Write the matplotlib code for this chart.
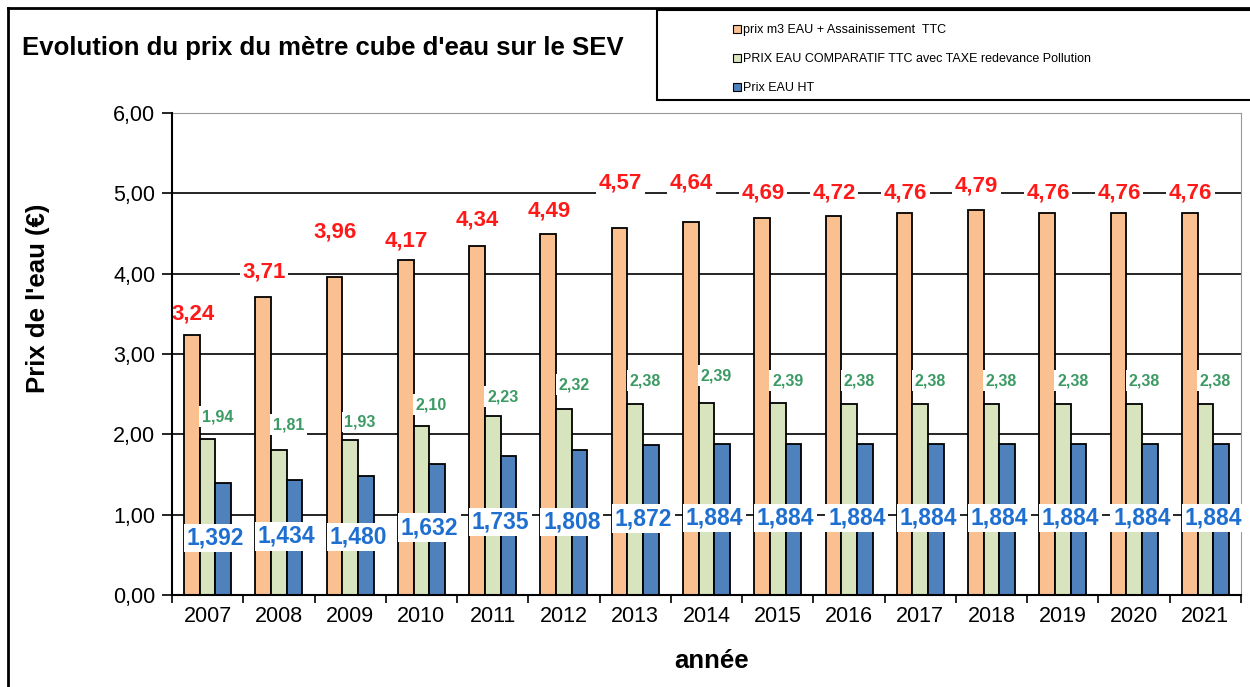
import numpy as np
import matplotlib
matplotlib.use("Agg")
import matplotlib.pyplot as plt
from matplotlib.patches import Patch, Rectangle
from matplotlib.lines import Line2D
from matplotlib.ticker import FuncFormatter, FixedLocator

plt.rcParams['font.family'] = ['Liberation Sans', 'DejaVu Sans']

# données
annees = ['2007', '2008', '2009', '2010', '2011', '2012', '2013', '2014',
          '2015', '2016', '2017', '2018', '2019', '2020', '2021']
prix_ttc = [3.24, 3.71, 3.96, 4.17, 4.34, 4.49, 4.57, 4.64, 4.69, 4.72, 4.76, 4.79, 4.76, 4.76, 4.76]
prix_comparatif = [1.94, 1.81, 1.93, 2.10, 2.23, 2.32, 2.38, 2.39, 2.39, 2.38, 2.38, 2.38, 2.38, 2.38, 2.38]
prix_ht = [1.392, 1.434, 1.480, 1.632, 1.735, 1.808, 1.872, 1.884, 1.884, 1.884, 1.884, 1.884, 1.884, 1.884, 1.884]

# hauteur des étiquettes
y_etiq_ttc = [3.50, 4.02, 4.52, 4.41, 4.67, 4.78, 5.13, 5.13, 5.01, 5.01, 5.01, 5.09, 5.01, 5.01, 5.01]
y_etiq_comp = [2.22, 2.12, 2.15, 2.37, 2.47, 2.62, 2.67, 2.73, 2.67, 2.67, 2.67, 2.67, 2.67, 2.67, 2.67]
y_etiq_ht = [0.71, 0.73, 0.72, 0.84, 0.91, 0.91, 0.95, 0.96, 0.96, 0.96, 0.96, 0.96, 0.96, 0.96, 0.96]

noms = ['prix m3 EAU + Assainissement  TTC',
        'PRIX EAU COMPARATIF TTC avec TAXE redevance Pollution',
        'Prix EAU HT']
couleurs = ['#FAC090', '#D7E4BD', '#4F81BD']

W, H = 1250, 687
fig = plt.figure(figsize=(W / 100, H / 100), dpi=100)
ax = fig.add_axes([172 / W, 1 - 595 / H, (1241 - 172) / W, (595 - 113) / H])

x = np.arange(len(annees))
larg = 0.22
for k, (vals, c) in enumerate(zip([prix_ttc, prix_comparatif, prix_ht], couleurs)):
    ax.bar(x + (k - 1) * larg, vals, width=larg, color=c, edgecolor='black',
           linewidth=1.3, zorder=3)

def fmt(v, n):
    return f"{v:.{n}f}".replace('.', ',')

boite = dict(facecolor='white', edgecolor='none', pad=2)
for i in range(len(annees)):
    ax.text(x[i] - larg + 0.01, y_etiq_ttc[i], fmt(prix_ttc[i], 2), color='#FF1A1A',
            fontsize=16, fontweight='bold', ha='center', va='center', zorder=5, bbox=boite)
    ax.text(x[i] + 0.14, y_etiq_comp[i], fmt(prix_comparatif[i], 2), color='#3C9A64',
            fontsize=11.5, fontweight='bold', ha='center', va='center', zorder=5, bbox=boite)
    ax.text(x[i] + 0.11, y_etiq_ht[i], fmt(prix_ht[i], 3), color='#1F6FD0',
            fontsize=16.5, fontweight='bold', ha='center', va='center', zorder=5, bbox=boite)

ax.set_xlim(-0.5, len(annees) - 0.5)
ax.set_ylim(0, 6)
ax.set_yticks(np.arange(0, 7, 1))
ax.yaxis.set_major_formatter(FuncFormatter(lambda v, p: fmt(v, 2)))
ax.set_xticks(x)
ax.set_xticklabels(annees)
ax.xaxis.set_minor_locator(FixedLocator(np.arange(-0.5, len(annees), 1)))
ax.tick_params(axis='x', which='major', length=0, labelsize=15.5, pad=8)
ax.tick_params(axis='x', which='minor', length=6, width=1.2, direction='out')
ax.tick_params(axis='y', length=7, width=1.2, labelsize=15.5, pad=5)

for v in range(1, 6):
    ax.axhline(v, color='black', linewidth=1.2, zorder=1)
ax.spines['left'].set_linewidth(1.5)
ax.spines['left'].set_zorder(10)
ax.spines['bottom'].set_linewidth(1.5)
ax.spines['bottom'].set_zorder(10)
ax.spines['top'].set_color('#999999')
ax.spines['right'].set_color('#999999')

fig.text(38 / W, 1 - 298 / H, "Prix de l'eau (€)", fontsize=18.5, fontweight='bold',
         rotation=90, ha='center', va='center')
fig.text(712 / W, 1 - 661 / H, 'année', fontsize=18.5, fontweight='bold', ha='center', va='center')
fig.text(22 / W, 1 - 48 / H, "Evolution du prix du mètre cube d'eau sur le SEV",
         fontsize=18.5, fontweight='bold', ha='left', va='center')

# cadre de la figure et de la légende
fig.add_artist(Line2D([8 / W, 8 / W], [0, 1 - 8 / H], color='black', linewidth=2, transform=fig.transFigure))
fig.add_artist(Line2D([8 / W, 1], [1 - 8 / H, 1 - 8 / H], color='black', linewidth=2, transform=fig.transFigure))
fig.add_artist(Rectangle((657 / W, 1 - 100 / H), (W + 5 - 657) / W, 90 / H, transform=fig.transFigure,
                         facecolor='white', edgecolor='black', linewidth=1.5))

poignees = [Patch(facecolor=c, edgecolor='black', linewidth=0.8) for c in couleurs]
fig.legend(poignees, noms, loc='upper left', bbox_to_anchor=(722 / W, 1 - 13 / H), frameon=False,
           fontsize=9, handlelength=0.6, handleheight=0.6, handletextpad=0.15, labelspacing=1.35)

fig.savefig('out.png', dpi=100)
